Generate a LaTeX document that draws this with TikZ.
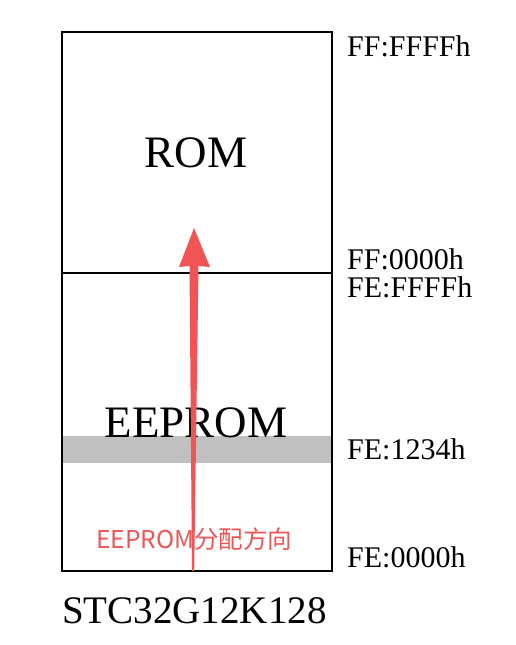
\documentclass[tikz,border=0pt]{standalone}
\usepackage{fontspec}
\setmainfont{Liberation Serif}
\newfontfamily\cjkfont{Noto Sans CJK SC}
\definecolor{arrowred}{RGB}{240,84,84}
\definecolor{bandgray}{RGB}{192,192,192}
\tikzset{
  memlabel/.style={anchor=base west, inner sep=0pt, font=\fontsize{30}{30}\selectfont},
  bigtext/.style={anchor=base, inner sep=0pt, font=\fontsize{45}{45}\selectfont},
  frame/.style={draw=black, line width=2.6pt},
}
\begin{document}
\begin{tikzpicture}[x=1pt,y=-1pt]
\useasboundingbox (0,0) rectangle (516,645);
% gray band
\fill[bandgray] (63,436) rectangle (331,463);
% EEPROM label (drawn before arrow)
\node[bigtext] (eeprom) at (196,437) {EEPROM};
\node[bigtext] (rom) at (196,167) {ROM};
% memory frame
\draw[frame] (62,32) rectangle (332,571);
\draw[frame] (62,273) -- (332,273);
\coordinate (astart) at (193,571);
\coordinate (aend) at (194,228);
% arrow (tapered shaft + head)
\fill[arrowred] ([xshift=-1pt]astart) -- ([xshift=1.2pt]astart) -- (198.5,266) -- (210,267) -- (aend) -- (179,267) -- (189.5,266) -- cycle;
% red caption
\node[anchor=base west, inner sep=0pt, text=arrowred, font=\cjkfont\fontsize{24.5}{24.5}\selectfont] (dir) at (96,548) {EEPROM分配方向};
% address labels
\node[memlabel] (a1) at (347,56) {FF:FFFFh};
\node[memlabel] (a2) at (347,269) {FF:0000h};
\node[memlabel] (a3) at (347,297) {FE:FFFFh};
\node[memlabel] (a4) at (347,459) {FE:1234h};
\node[memlabel] (a5) at (347,567) {FE:0000h};
% chip name
\node[anchor=base west, inner sep=0pt, font=\fontsize{39}{39}\selectfont] (chip) at (62,623) {STC32G12K128};
\end{tikzpicture}
\end{document}
